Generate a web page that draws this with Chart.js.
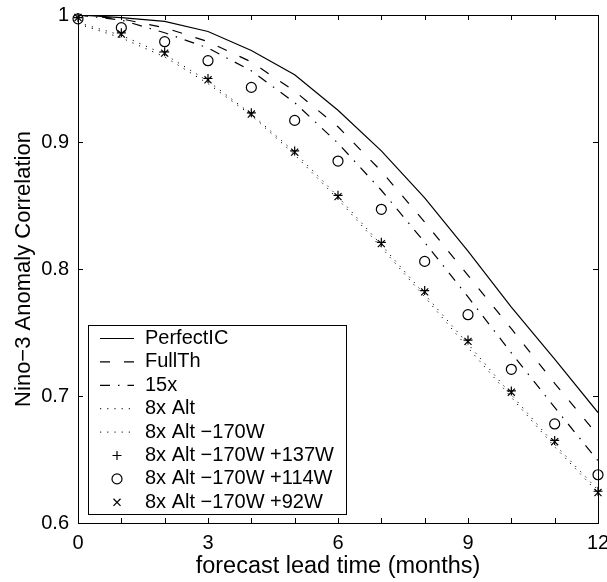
<!DOCTYPE html>
<html>
<head>
<meta charset="utf-8">
<script src="https://cdn.jsdelivr.net/npm/chart.js@4.4.1/dist/chart.umd.min.js"></script>
<style>
    html, body { margin: 0; padding: 0; background: #fff; }
    #wrap { width: 607px; height: 582px; position: relative; }
</style>
</head>
<body>
<div id="wrap"><canvas id="ninoChart"></canvas></div>
<script>
// --- 1. Data ---
const months = [0, 1, 2, 3, 4, 5, 6, 7, 8, 9, 10, 11, 12];
const xTickLabels = [0, 3, 6, 9, 12];
const yTicks = [0.6, 0.7, 0.8, 0.9, 1];

const perfectIC = [1.000, 0.998, 0.995, 0.987, 0.972, 0.953, 0.925, 0.893, 0.856, 0.814, 0.770, 0.729, 0.687];
const fullTh    = [1.000, 0.997, 0.990, 0.979, 0.963, 0.940, 0.912, 0.877, 0.837, 0.795, 0.753, 0.710, 0.669];
const run15x    = [1.000, 0.996, 0.986, 0.974, 0.956, 0.931, 0.899, 0.862, 0.821, 0.778, 0.734, 0.691, 0.649];
const alt8x     = [0.993, 0.982, 0.967, 0.946, 0.921, 0.890, 0.855, 0.817, 0.778, 0.738, 0.699, 0.660, 0.624];
const alt8x170W = [0.994, 0.984, 0.969, 0.948, 0.922, 0.892, 0.857, 0.819, 0.780, 0.741, 0.701, 0.662, 0.626];
const plus137W  = [0.998, 0.986, 0.971, 0.950, 0.923, 0.893, 0.858, 0.821, 0.783, 0.744, 0.704, 0.665, 0.625];
const plus114W  = [0.997, 0.990, 0.979, 0.964, 0.943, 0.917, 0.885, 0.847, 0.806, 0.764, 0.721, 0.678, 0.638];
const plus92W   = [0.998, 0.985, 0.970, 0.949, 0.922, 0.892, 0.857, 0.820, 0.782, 0.743, 0.703, 0.664, 0.624];

const seriesLabels = ['PerfectIC', 'FullTh', '15x', '8x Alt', '8x Alt \u2212170W',
    '8x Alt \u2212170W +137W', '8x Alt \u2212170W +114W', '8x Alt \u2212170W +92W'];

const toPoints = arr => months.map((m, i) => ({ x: m, y: arr[i] }));

// --- 2. Chart setup ---
Chart.defaults.font.family = '"Liberation Sans", Arial, Helvetica, sans-serif';
Chart.defaults.color = '#000';

function lineSet(label, data, dash, width) {
    return {
        label: label, data: toPoints(data),
        borderColor: '#000', borderWidth: width, borderDash: dash,
        pointRadius: 0, tension: 0, fill: false
    };
}
function markerSet(label, data, style, radius) {
    return {
        label: label, data: toPoints(data), showLine: false,
        pointStyle: style, pointRadius: radius, pointBorderWidth: 1.2,
        pointBorderColor: '#000', pointBackgroundColor: 'rgba(0,0,0,0)',
        borderColor: '#000', clip: false
    };
}

// frame, inward ticks (MATLAB style) and boxed legend
const frameAndLegend = {
    id: 'frameAndLegend',
    afterDraw(chart) {
        const { ctx, chartArea: a, scales: { x, y } } = chart;
        ctx.save();
        ctx.strokeStyle = '#000';
        ctx.lineWidth = 1;
        ctx.setLineDash([]);
        ctx.strokeRect(Math.round(a.left) + 0.5, Math.round(a.top) + 0.5,
            Math.round(a.width), Math.round(a.height));

        ctx.beginPath();
        months.forEach(m => {
            const px = Math.round(x.getPixelForValue(m)) + 0.5;
            ctx.moveTo(px, a.bottom); ctx.lineTo(px, a.bottom - 5);
            ctx.moveTo(px, a.top); ctx.lineTo(px, a.top + 5);
        });
        yTicks.forEach(v => {
            const py = Math.round(y.getPixelForValue(v)) + 0.5;
            ctx.moveTo(a.left, py); ctx.lineTo(a.left + 5, py);
            ctx.moveTo(a.right, py); ctx.lineTo(a.right - 5, py);
        });
        ctx.stroke();

        // legend box
        const bx = 88.5, by = 325.5, bw = 258, bh = 189, rowH = 23.4;
        ctx.fillStyle = '#fff';
        ctx.fillRect(bx, by, bw, bh);
        ctx.strokeRect(bx, by, bw, bh);
        ctx.font = '20px "Liberation Sans", Arial, sans-serif';
        ctx.textBaseline = 'middle';
        chart.data.datasets.forEach((ds, i) => {
            const cy = by + 13 + i * rowH;
            ctx.strokeStyle = '#000';
            if (ds.showLine === false) {
                ctx.setLineDash([]);
                ctx.fillStyle = 'rgba(0,0,0,0)';
                ctx.lineWidth = ds.pointBorderWidth;
                Chart.helpers.drawPoint(ctx, {
                    pointStyle: ds.pointStyle, radius: ds.pointRadius,
                    rotation: 0, borderWidth: ds.pointBorderWidth
                }, 117, cy);
            } else {
                ctx.lineWidth = ds.borderWidth;
                ctx.setLineDash(ds.borderDash || []);
                ctx.beginPath();
                ctx.moveTo(100, cy); ctx.lineTo(134, cy);
                ctx.stroke();
            }
            ctx.setLineDash([]);
            ctx.fillStyle = '#000';
            ctx.fillText(ds.label, 145, cy);
        });
        ctx.restore();
    }
};

new Chart(document.getElementById('ninoChart'), {
    type: 'line',
    data: {
        datasets: [
            lineSet(seriesLabels[0], perfectIC, [], 1.2),
            lineSet(seriesLabels[1], fullTh, [10, 14], 1.2),
            lineSet(seriesLabels[2], run15x, [10, 8, 1.5, 8], 1.2),
            lineSet(seriesLabels[3], alt8x, [1.2, 6], 1),
            lineSet(seriesLabels[4], alt8x170W, [1.2, 6], 1),
            markerSet(seriesLabels[5], plus137W, 'cross', 4.5),
            markerSet(seriesLabels[6], plus114W, 'circle', 5),
            markerSet(seriesLabels[7], plus92W, 'crossRot', 5)
        ]
    },
    options: {
        animation: false,
        responsive: true,
        maintainAspectRatio: false,
        layout: { padding: { top: 15, right: 9, left: 0, bottom: 0 } },
        plugins: { legend: { display: false }, tooltip: { enabled: false } },
        scales: {
            x: {
                type: 'linear', min: 0, max: 12,
                grid: { display: false }, border: { display: false },
                ticks: {
                    stepSize: 1, autoSkip: false, maxRotation: 0, padding: 0,
                    font: { size: 20 },
                    callback: v => xTickLabels.includes(v) ? String(v) : ''
                },
                title: {
                    display: true, text: 'forecast lead time (months)',
                    font: { size: 23.5 }, padding: { top: 0, bottom: 1 }
                },
                afterFit(s) { s.height = 59; s.paddingLeft = 0; s.paddingRight = 0; }
            },
            y: {
                min: 0.6, max: 1,
                grid: { display: false }, border: { display: false },
                ticks: {
                    stepSize: 0.1, padding: 1, font: { size: 20 },
                    callback: v => Math.abs(v - 1) < 1e-6 ? '1' : v.toFixed(1)
                },
                title: {
                    display: true, text: 'Nino\u22123 Anomaly Correlation',
                    font: { size: 22 }, padding: { top: 11, bottom: 0 }
                },
                afterFit(s) { s.width = 78; s.paddingTop = 0; s.paddingBottom = 0; }
            }
        }
    },
    plugins: [frameAndLegend]
});
</script>
</body>
</html>
